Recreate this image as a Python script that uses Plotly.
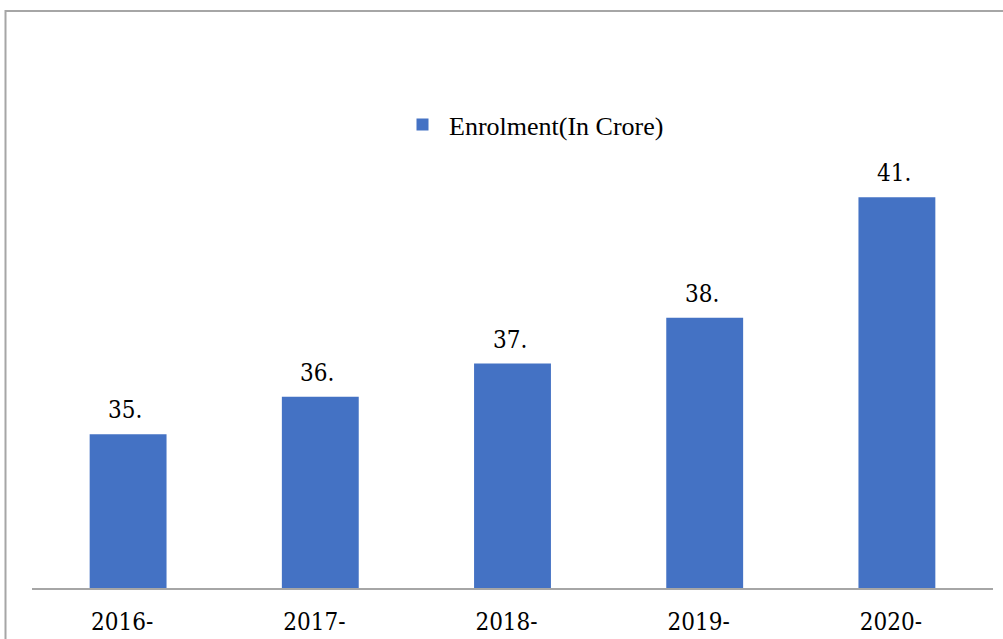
import plotly.graph_objects as go

categories = ["2016-17", "2017-18", "2018-19", "2019-20", "2020-21"]
tick_labels = ["2016-", "2017-", "2018-", "2019-", "2020-"]
enrolment = [35.7, 36.6, 37.4, 38.5, 41.4]
value_labels = ["35.", "36.", "37.", "38.", "41."]

W, H = 1003, 639
SERIF = "DejaVu Serif Condensed, DejaVu Serif, serif"

fig = go.Figure()
fig.add_trace(go.Bar(
    x=categories, y=enrolment, name="\u00a0Enrolment(In Crore)",
    marker=dict(color="#4472C4", line=dict(width=0)),
))

for c, v, t in zip(categories, enrolment, value_labels):
    fig.add_annotation(x=c, y=v, text=t, showarrow=False, yanchor="bottom",
                       xanchor="center", yshift=8, xshift=-3,
                       font=dict(family=SERIF, size=24, color="#000000"))

fig.add_shape(type="rect", xref="paper", yref="paper",
              x0=5.5 / W, x1=1.05, y0=-0.05, y1=(H - 11) / H,
              line=dict(color="#a6a6a6", width=2), fillcolor="rgba(0,0,0,0)")

fig.update_layout(
    template="none",
    width=W, height=H, autosize=False,
    margin=dict(l=0, r=0, t=0, b=0, pad=0),
    paper_bgcolor="white", plot_bgcolor="white",
    bargap=0.6,
    showlegend=True,
    legend=dict(x=402.5 / W, y=(H - 124.5) / H, xanchor="left", yanchor="middle",
                bgcolor="rgba(0,0,0,0)", borderwidth=0,
                font=dict(family="Liberation Serif", size=26, color="#000000")),
    xaxis=dict(domain=[32 / W, 993 / W], showgrid=False, zeroline=False,
               showline=True, linecolor="#a6a6a6", linewidth=2,
               ticks="", tickmode="array", tickvals=categories, ticktext=tick_labels,
               ticklabelshift=-6, ticklabelstandoff=11, automargin=False,
               tickfont=dict(family=SERIF, size=24, color="#000000")),
    yaxis=dict(domain=[(H - 588) / H, (H - 6) / H], range=[32, 46],
               showgrid=False, zeroline=False, showline=False,
               showticklabels=False, ticks="", automargin=False),
)

fig.write_html("out.html")
